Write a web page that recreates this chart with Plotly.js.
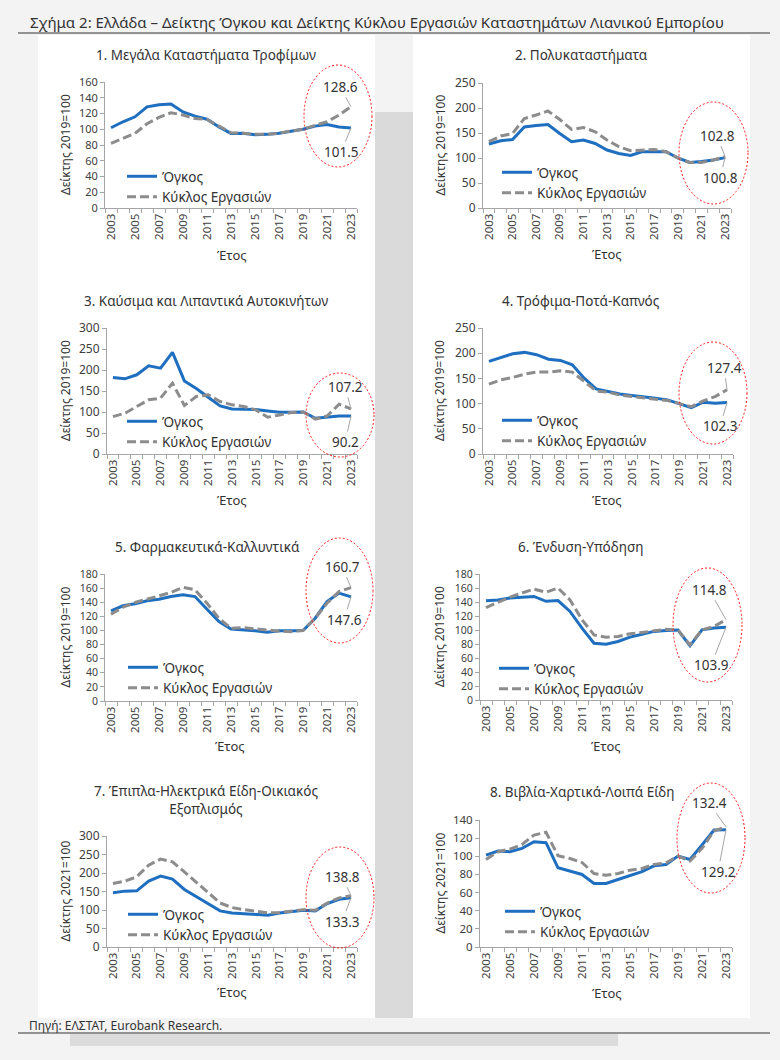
<!DOCTYPE html>
<html><head><meta charset="utf-8">
<script src="https://cdn.plot.ly/plotly-3.0.1.min.js"></script>
<style>html,body{margin:0;padding:0;background:#f3f3f3}#chart{width:780px;height:1060px}</style>
</head><body><div id="chart"></div>
<script>
const years = [2003,2004,2005,2006,2007,2008,2009,2010,2011,2012,2013,2014,2015,2016,2017,2018,2019,2020,2021,2022,2023];

const volume1   = [101.9,109.5,115.8,128.4,131,132,122,116.6,112.8,103,94.7,95,93,93.5,95,97.7,100,104,106,103,101.5];
const turnover1 = [82,88.4,94.7,107,115,121,118,113.7,112.4,104,95.6,95,93.5,93.5,95,97.7,100,105,109.5,118,128.6];
const volume2   = [128,134.6,137,162,165,167,149,132.6,136,129,116,109,105,112.7,112.7,112.7,100,91,93,96,100.8];
const turnover2 = [132.6,144,149,179,186,194,177,157,161,152.5,136,122.7,114.7,116,117,112.7,100,91,91,96,102.8];
const volume3   = [182,179,188.6,210,204.5,242,174,156,135,114.6,107.4,107.4,106,102.6,99.5,99.5,100,85,87.5,90.7,90.2];
const turnover3 = [89,97,113,129,133,168.7,115.4,137,141,125,117,113,105,87.5,93,98.7,100,82.8,90.7,118.6,107.2];
const volume4   = [183.7,192,199,201.6,197,188,185.7,177,150.5,129,124,119,116,114,110.7,107.4,100,92,102.8,100.8,102.3];
const turnover4 = [138.6,147,152,158.5,162.5,162.5,165,162.5,144,125,122.7,117,114,110.7,108.8,106,100,94,105.4,114,127.4];
const volume5   = [127.7,134.9,137.7,142,144.3,148,150.5,148,130,112.5,102,100.7,99.7,97.3,99.7,99.7,100,117,141,153,147.6];
const turnover5 = [123,133,139.6,144.8,149,154,161,157.6,138.6,117,103,104,102,100.7,99,98.3,100,117,138.6,155,160.7];
const volume6   = [141.8,143,145.6,147,148,141,142,126.5,102.7,81,79.7,83.6,89.8,94,98,99.3,100,77.4,100.3,102.7,103.9];
const turnover6 = [132,139.4,147,152.8,158.5,154,160,143,114.6,93,89.8,90.7,94.6,96.5,98.9,101,100,78.8,100.3,105,114.8];
const volume7   = [146.4,151,151.8,178,191.6,183.4,155.4,135.5,115.7,97.6,92,90.4,88.5,85.8,92,95,99.4,97.6,117.5,129,133.3];
const turnover7 = [171.7,178,189.8,221,237.6,230,203,176,147,119,106.6,101,96.7,92,93,96.7,101,99.4,119,132.8,138.8];
const volume8   = [101.3,105.7,105,108.7,116,115,87.3,83.6,80,70,70,74.4,79,83,89.5,91,100.2,96.5,112.4,129,129.2];
const turnover8 = [96.5,105,108,113,123.4,126.4,100.6,97.6,93.2,81,79,81,84.7,86.6,91,92.8,100.2,94.7,108.7,127.9,132.4];

const panelTitles = [
  '1. Μεγάλα Καταστήματα Τροφίμων',
  '2. Πολυκαταστήματα',
  '3. Καύσιμα και Λιπαντικά Αυτοκινήτων',
  '4. Τρόφιμα-Ποτά-Καπνός',
  '5. Φαρμακευτικά-Καλλυντικά',
  '6. Ένδυση-Υπόδηση',
  '7. Έπιπλα-Ηλεκτρικά Είδη-Οικιακός<br>Εξοπλισμός',
  '8. Βιβλία-Χαρτικά-Λοιπά Είδη'
];
const yTitles = ['Δείκτης 2019=100','Δείκτης 2019=100','Δείκτης 2019=100','Δείκτης 2019=100',
                 'Δείκτης 2019=100','Δείκτης 2019=100','Δείκτης 2021=100','Δείκτης 2021=100'];
const seriesNames = ['Όγκος','Κύκλος Εργασιών'];
const xTitle = 'Έτος';
const yMax  = [160,250,300,250,180,180,300,140];
const yStep = [20,50,50,50,20,20,50,20];
const chartTitle = 'Σχήμα 2: Ελλάδα – Δείκτης Όγκου και Δείκτης Κύκλου Εργασιών Καταστημάτων Λιανικού Εμπορίου';
const sourceText = 'Πηγή: ΕΛΣΤΑΤ, Eurobank Research.';

const volumes = [volume1,volume2,volume3,volume4,volume5,volume6,volume7,volume8];
const turnovers = [turnover1,turnover2,turnover3,turnover4,turnover5,turnover6,turnover7,turnover8];

// ---- layout geometry (pixels) ----
const W = 780, H = 1060;
const px = x => x / W;
const py = y => 1 - y / H;
const boxes = [
  [105,357,82,208],[483,731,83,208],
  [107,357,328,454],[483,733,328,454],
  [105,357,574,701],[480,732,574,700],
  [107,357,836,947],[480,732,820,947]
];
const yTickSize = [11,12,12,12,10.5,10.5,12,11.5];
const titlePos = [[206,55],[581,55],[206,301],[581,301],[207,547],[580,547],[206,800],[582,792]];
const yTitleX = [65,440,65,439,65,439,65,440];
const xTitlePos = [[232,255],[607,254],[232,500],[607,500],[230,746],[606,746],[232,992],[607,993]];
const legendPos = [[122,161],[497,157],[122,406],[497,405],[123,652],[494,653],[123,899],[500,896]];
const ellipses = [
  [304,372,65,167],[679,748,102,204],[306,374,373,457],[679,747,342,444],
  [306,373,538,643],[673,742,568,682],[306,374,847,948],[677,745,783,893]
];
const annOff = [ // [ax,ay] for turnover label, [ax,ay] for volume label
  [[-11,-20],[-10,24]],[[-8,-21],[-5,20]],[[-6,-22],[-6,26]],[[-3,-22],[-7,24]],
  [[-9,-21],[-7,23]],[[-17,-30],[-15,38]],[[-9,-19],[-9,24]],[[-17,-24],[-8,42]]
];

const blue = '#1f6fc0', grey = '#8c8c8c', axisCol = '#a6a6a6', txt = '#333333';
const FONT = 'Noto Sans, Open Sans, sans-serif';

const traces = [];
const layout = {
  width: W, height: H,
  margin: {l:0,r:0,t:0,b:0},
  paper_bgcolor: '#f3f3f3',
  plot_bgcolor: 'rgba(0,0,0,0)',
  font: {family: FONT, color: txt},
  showlegend: true,
  shapes: [], annotations: []
};

// background blocks
const rectPx = (x0,x1,y0,y1,color) => ({type:'rect',xref:'paper',yref:'paper',layer:'below',
  x0:px(x0),x1:px(x1),y0:py(y1),y1:py(y0),fillcolor:color,line:{width:0}});
layout.shapes.push(rectPx(375,413,112,1018,'#dadada'));
layout.shapes.push(rectPx(70,618,1034,1046,'#dcdcdc'));
layout.shapes.push(rectPx(38,375,35,1018,'#ffffff'));
layout.shapes.push(rectPx(413,750,35,1018,'#ffffff'));
layout.shapes.push({type:'line',xref:'paper',yref:'paper',x0:px(18),x1:px(770),y0:py(33),y1:py(33),line:{color:'#333',width:1}});
layout.shapes.push({type:'line',xref:'paper',yref:'paper',x0:px(18),x1:px(770),y0:py(1033),y1:py(1033),line:{color:'#333',width:1}});

layout.annotations.push({xref:'paper',yref:'paper',x:px(28),y:py(22),xanchor:'left',yanchor:'middle',
  text:chartTitle,showarrow:false,font:{size:15,color:'#333'}});
layout.annotations.push({xref:'paper',yref:'paper',x:px(27),y:py(1025),xanchor:'left',yanchor:'middle',
  text:sourceText,showarrow:false,font:{size:12,color:'#333'}});

for (let i = 0; i < 8; i++) {
  const n = i + 1;
  const xa = 'xaxis' + (n === 1 ? '' : n), ya = 'yaxis' + (n === 1 ? '' : n);
  const xr = 'x' + (n === 1 ? '' : n), yr = 'y' + (n === 1 ? '' : n);
  const lg = 'legend' + (n === 1 ? '' : n);
  const [x0,x1,y0,y1] = boxes[i];

  layout[xa] = {
    domain:[px(x0),px(x1)], anchor:yr, range:[2002.5,2023.5],
    tickmode:'linear', tick0:2003, dtick:2, tickangle:-90, ticks:'',
    showline:true, linecolor:axisCol, linewidth:1, showgrid:false, zeroline:false,
    tickfont:{size:11.5,color:'#404040'},
    minor:{tickmode:'linear', tick0:2002.5, dtick:1, ticks:'outside', ticklen:4, tickcolor:axisCol, showgrid:false},
    fixedrange:true
  };
  layout[ya] = {
    domain:[py(y1),py(y0)], anchor:xr, range:[0,yMax[i]], tickmode:'linear', tick0:0, dtick:yStep[i],
    ticks:'outside', ticklen:4, tickcolor:axisCol, showline:true, linecolor:axisCol, linewidth:1,
    showgrid:false, zeroline:false, tickfont:{size:yTickSize[i],color:'#404040'}, fixedrange:true
  };
  layout[lg] = {
    x:px(legendPos[i][0]), y:py(legendPos[i][1]), xanchor:'left', yanchor:'top',
    bgcolor:'rgba(0,0,0,0)', borderwidth:0, font:{size:13.5,color:txt}, tracegroupgap:0
  };

  traces.push({type:'scatter', mode:'lines', x:years, y:volumes[i], name:seriesNames[0],
    xaxis:xr, yaxis:yr, legend:lg, line:{color:blue,width:3}});
  traces.push({type:'scatter', mode:'lines', x:years, y:turnovers[i], name:seriesNames[1],
    xaxis:xr, yaxis:yr, legend:lg, line:{color:grey,width:3,dash:'9px,4px'}});

  // titles
  layout.annotations.push({xref:'paper',yref:'paper',x:px(titlePos[i][0]),y:py(titlePos[i][1]),
    xanchor:'center',yanchor:'middle',text:panelTitles[i],showarrow:false,font:{size:13.5,color:txt}});
  layout.annotations.push({xref:'paper',yref:'paper',x:px(yTitleX[i]),y:py((y0+y1)/2),
    xanchor:'center',yanchor:'middle',textangle:-90,text:yTitles[i],showarrow:false,font:{size:12,color:txt}});
  layout.annotations.push({xref:'paper',yref:'paper',x:px(xTitlePos[i][0]),y:py(xTitlePos[i][1]),
    xanchor:'center',yanchor:'middle',text:xTitle,showarrow:false,font:{size:13,color:txt}});

  // end labels
  const last = years.length - 1;
  layout.annotations.push({xref:xr,yref:yr,x:years[last],y:turnovers[i][last],
    text:turnovers[i][last].toFixed(1),showarrow:true,arrowhead:0,arrowwidth:1,arrowcolor:'#a6a6a6',
    ax:annOff[i][0][0],ay:annOff[i][0][1],standoff:0,font:{size:13.5,color:txt}});
  layout.annotations.push({xref:xr,yref:yr,x:years[last],y:volumes[i][last],
    text:volumes[i][last].toFixed(1),showarrow:true,arrowhead:0,arrowwidth:1,arrowcolor:'#a6a6a6',
    ax:annOff[i][1][0],ay:annOff[i][1][1],standoff:0,font:{size:13.5,color:txt}});

  // red dotted ellipse
  const e = ellipses[i];
  layout.shapes.push({type:'circle',xref:'paper',yref:'paper',layer:'above',
    x0:px(e[0]),x1:px(e[1]),y0:py(e[3]),y1:py(e[2]),line:{color:'#ff1a1a',width:1,dash:'2px,2px'}});
}

Plotly.newPlot('chart', traces, layout, {displayModeBar:false, staticPlot:true});
</script>
</body></html>
